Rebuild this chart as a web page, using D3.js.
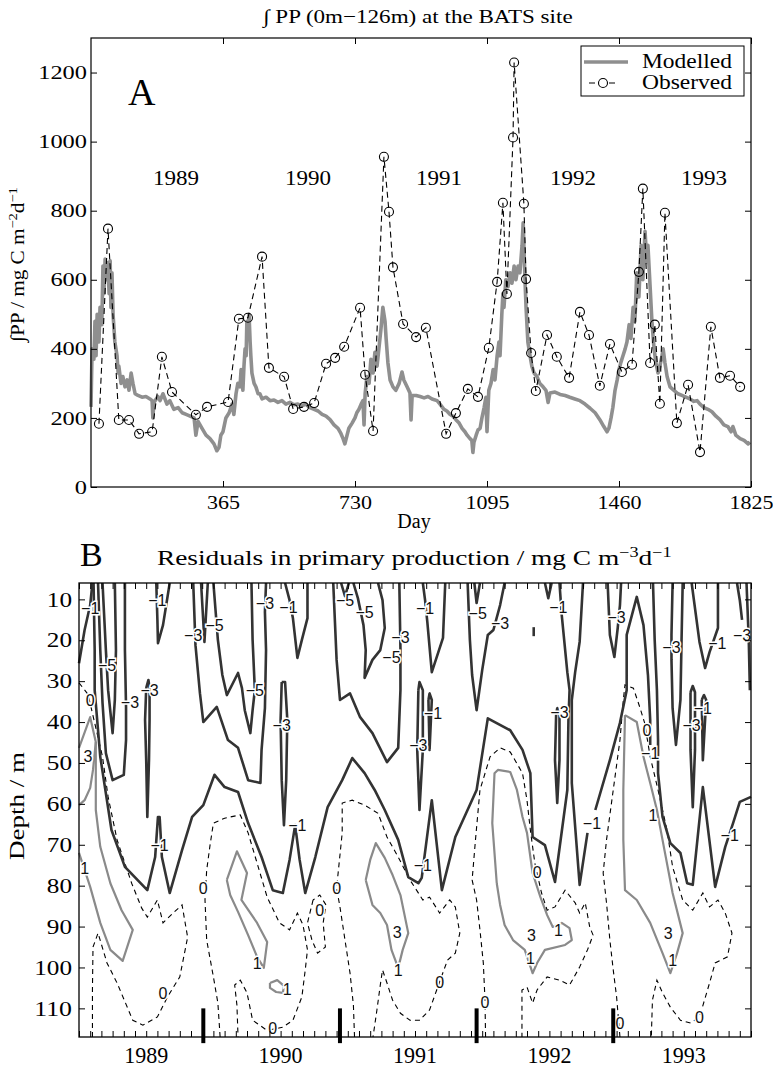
<!DOCTYPE html>
<html><head><meta charset="utf-8">
<script src="https://cdn.jsdelivr.net/npm/d3@7"></script>
<style>
body{margin:0;background:#fff}svg{display:block}
svg text{font-family:"Liberation Serif","Times New Roman",Times,serif}
svg text.cl{font-family:"Liberation Sans",Arial,Helvetica,sans-serif}
</style>
</head><body>
<svg id="c" width="773" height="1070"></svg>
<script>
// ---------------- DATA: panel A ----------------
const dayTicksA = [365, 730, 1095, 1460, 1825];
const ppTicksA = [0, 200, 400, 600, 800, 1000, 1200];
const yearNamesA = ["1989", "1990", "1991", "1992", "1993"];
const yearDaysA = [235, 600, 962, 1333, 1695];
// observed integrated PP [day, mg C m-2 d-1]
const observed = [[22,183],[47,748],[77,194],[105,194],[133,154],[169,160],[196,377],[224,275],[290,209],[321,232],[379,246],[409,487],[434,490],[473,667],[492,345],[534,319],[559,226],[589,232],[617,243],[650,357],[675,374],[700,406],[744,519],[758,325],[780,162],[810,956],[824,797],[835,636],[863,472],[899,434],[926,461],[982,154],[1009,214],[1042,284],[1070,261],[1100,403],[1123,594],[1139,823],[1150,559],[1167,1012],[1170,1229],[1197,820],[1203,602],[1217,388],[1230,278],[1261,440],[1288,377],[1322,316],[1352,507],[1377,440],[1407,293],[1435,414],[1468,333],[1496,354],[1515,623],[1526,864],[1546,359],[1559,470],[1573,241],[1587,794],[1620,185],[1651,296],[1684,101],[1714,464],[1739,316],[1767,322],[1795,290]];
// modelled integrated PP [day, value]
const modelled = [[0,232],[3,400],[8,370],[11,480],[14,380],[17,500],[22,420],[25,520],[30,470],[33,640],[36,560],[39,660],[44,600],[47,650],[50,560],[53,655],[55,520],[58,620],[61,500],[66,420],[72,380],[75,330],[77,350],[83,300],[88,320],[94,290],[100,310],[105,280],[111,330],[116,300],[122,270],[130,265],[141,260],[152,262],[163,255],[169,250],[171,200],[174,245],[185,262],[191,250],[199,270],[210,240],[218,250],[229,225],[241,230],[252,215],[263,210],[274,205],[285,200],[290,150],[296,190],[307,170],[318,150],[329,140],[340,125],[348,105],[354,115],[359,150],[365,160],[373,200],[382,215],[390,240],[395,210],[401,270],[406,300],[412,290],[415,340],[420,280],[423,350],[426,400],[429,380],[431,480],[434,430],[437,500],[440,420],[442,380],[445,330],[451,300],[456,290],[462,270],[467,270],[473,255],[484,260],[495,250],[506,252],[517,245],[528,250],[539,240],[550,245],[561,238],[572,240],[583,235],[594,240],[605,230],[617,225],[628,220],[639,210],[650,205],[661,195],[672,180],[683,170],[691,155],[697,140],[702,125],[708,150],[713,170],[722,185],[730,200],[735,215],[741,225],[747,240],[752,250],[755,180],[758,270],[763,320],[769,300],[774,370],[780,330],[785,390],[791,350],[796,400],[802,460],[807,520],[813,480],[816,430],[821,360],[827,310],[835,290],[843,280],[852,300],[860,333],[865,310],[874,290],[882,272],[885,194],[888,265],[899,265],[910,262],[921,258],[932,262],[943,255],[957,250],[965,240],[976,225],[984,220],[993,210],[1001,205],[1009,195],[1018,185],[1026,170],[1034,160],[1040,150],[1048,140],[1053,135],[1056,100],[1059,130],[1065,150],[1070,165],[1076,170],[1081,200],[1087,230],[1092,260],[1095,160],[1100,280],[1106,300],[1112,340],[1117,310],[1123,380],[1128,420],[1131,380],[1136,500],[1139,560],[1142,520],[1147,600],[1153,580],[1159,620],[1164,590],[1170,640],[1175,600],[1181,640],[1186,620],[1192,700],[1195,765],[1197,700],[1200,600],[1203,520],[1206,460],[1208,420],[1214,380],[1219,350],[1225,330],[1233,320],[1241,300],[1250,290],[1258,280],[1264,245],[1269,272],[1283,275],[1297,268],[1311,265],[1324,260],[1338,255],[1352,250],[1366,240],[1380,228],[1394,215],[1407,195],[1418,175],[1427,160],[1432,170],[1438,200],[1443,230],[1449,280],[1455,310],[1460,340],[1465,360],[1471,380],[1477,400],[1482,420],[1488,470],[1493,430],[1499,520],[1504,480],[1509,620],[1515,550],[1521,700],[1526,600],[1532,740],[1537,650],[1540,700],[1546,580],[1551,480],[1557,400],[1562,360],[1568,330],[1573,350],[1579,380],[1582,400],[1587,360],[1593,320],[1601,290],[1612,280],[1623,270],[1634,265],[1645,260],[1656,255],[1667,248],[1676,250],[1684,240],[1695,230],[1706,225],[1717,218],[1728,205],[1739,195],[1750,180],[1761,175],[1770,160],[1775,175],[1783,150],[1795,140],[1806,135],[1817,125],[1822,130]];

// ---------------- DATA: panel B (months since Jan 1989, depth m) ----------------
const depthTicks = [10,20,30,40,50,60,70,80,90,100,110];
const monthTicks = d3.range(0, 61);
const yearNamesB = ["1989", "1990", "1991", "1992", "1993"];
const yearMonthsB = [6, 18, 30, 42, 54];
const gapBars = [11.1, 23.3, 35.5, 47.7];
// negative residual contours (-1, -3, -5)
const contoursNeg = [
 [[0,25.6],[0.5,17.5],[1.0,11.4],[1.2,6]],
 [[1.3,6],[1.4,22.4],[1.4,32.2],[1.9,48.5],[2.9,66.4],[4.1,75.4],[6.1,81.1],[6.8,73.0],[7.05,63.2],[7.2,63.2],[7.4,73.0],[8.1,81.8],[9.2,71.3],[10.1,63.2],[11.1,60.3],[12.1,52.9],[13.0,55.9],[14.2,57.1],[15.1,64.7],[16.3,73.0],[17.3,81.1],[18.2,81.8],[18.8,73.7],[19.3,65.2],[19.7,73.7],[20.2,81.8],[21.1,73.0],[22.2,60.8],[23.5,54.2],[24.4,48.8],[25.5,52.5],[26.4,56.6],[27.3,61.5],[28.5,68.8],[29.4,77.9],[30.3,79.4],[30.6,78.1],[31.5,59.1],[32.4,81.1],[33.6,68.1],[35.5,56.6],[36.5,39.1],[38.5,42.0],[39.6,46.8],[40.3,52.5],[40.5,68.1],[41.6,70.1],[42.5,79.1],[43.6,56.6],[43.7,39.5],[43.8,32.2],[43.6,27.8],[43.1,13.8],[42.9,6]],
 [[45.0,6],[44.7,20.4],[44.3,27.8],[44.0,34.6],[44.0,54.9],[44.7,79.8],[45.4,67.1]],
 [[46.1,61.5],[47.4,49.3],[48.3,40.2],[48.9,32.2],[48.9,18.7],[49.8,9.4],[50.4,16.3],[50.8,28.5],[51.0,39.5],[51.0,45.6]],
 [[51.25,6],[51.4,19.9],[51.6,32.2],[51.7,44.4],[51.7,52.5],[52.1,63.2],[52.8,69.6],[53.7,72.0],[54.3,79.4],[54.8,79.8],[55.7,55.9],[56.8,80.3],[57.7,70.5],[58.4,64.7],[59.0,59.5],[60,58.3]],
 [[2.1,6],[2.4,22.4],[2.6,32.2],[3.0,42.7],[3.2,34.6],[3.3,22.4],[3.2,6]],
 [[1.7,6],[1.9,22.4],[2.1,35.3],[2.4,47.6],[3.0,54.2],[4.0,52.9],[4.2,44.4],[4.2,36.3],[4.1,22.4],[4.1,6]],
 [[6.0,31.7],[5.9,39.5],[6.0,49.3],[6.1,63.2],[6.25,49.3],[6.3,39.5],[6.3,31.7],[6.2,29.7],[6.0,31.7]],
 [[6.9,6],[7.0,15.0],[7.05,20.7],[7.5,16.3],[8.1,6]],
 [[10.2,6],[10.4,21.2],[10.8,33.0],[11.1,40.0],[12.3,36.3],[13.3,44.4],[14.2,46.3],[15.1,54.2],[16.2,54.9],[16.3,46.8],[16.6,36.6],[16.7,22.4],[16.6,13.1],[16.7,6]],
 [[10.9,6],[11.2,20.4],[11.5,6]],
 [[12.0,6],[12.4,19.9],[12.8,28.5],[13.2,33.4],[14.2,28.0],[14.55,31.7],[14.8,37.1],[15.3,42.7],[15.5,37.1],[15.7,32.2],[15.5,19.9],[15.4,6]],
 [[18.4,6],[18.8,10.2],[19.1,14.6],[19.5,24.3],[19.9,19.9],[20.4,14.6],[20.4,6]],
 [[18.1,30.2],[18.0,39.5],[18.1,54.2],[18.3,65.2],[18.5,54.2],[18.6,39.5],[18.4,30.2],[18.1,30.2]],
 [[22.7,6],[23.0,24.8],[23.3,34.6],[24.2,33.0],[25.1,38.8],[26.2,42.7],[27.5,49.8],[28.5,46.3],[28.7,32.2],[28.7,21.9],[28.6,6]],
 [[23.4,6],[23.75,9.2],[24.1,6]],
 [[24.5,6],[24.9,9.7],[25.4,16.3],[25.6,22.4],[25.5,29.2],[26.2,24.8],[26.9,22.4],[27.3,17.0],[27.1,10.2],[26.7,6]],
 [[30.7,6],[30.9,10.2],[31.1,15.5],[31.5,27.8],[32.5,19.4],[32.7,6]],
 [[30.3,32.2],[30.2,46.8],[30.4,61.5],[30.7,46.8],[30.7,32.2],[30.4,30.2],[30.3,32.2]],
 [[31.2,34.6],[31.3,46.8],[31.5,34.6],[31.3,33.0],[31.2,34.6]],
 [[34.7,6],[34.9,19.9],[35.1,28.5],[35.5,37.1],[36.0,27.3],[36.5,18.7],[37.0,17.5],[37.6,11.4],[38.0,6]],
 [[35.3,6],[35.5,10.9],[35.8,6]],
 [[40.6,16.8],[40.6,19.0]],
 [[41.6,6],[41.9,9.7],[42.2,6]],
 [[42.6,38.3],[42.5,49.3],[42.7,59.8],[42.9,49.3],[42.9,38.3],[42.7,36.6],[42.6,38.3]],
 [[47.2,6],[47.4,18.7],[47.8,24.1],[48.1,17.0],[48.3,11.4],[48.4,6]],
 [[54.7,6],[55.4,20.4],[55.9,26.8],[56.3,22.9],[57.05,17.0],[57.05,6]],
 [[54.6,32.7],[54.6,46.8],[54.8,60.8],[55.0,46.8],[55.0,32.7],[54.8,31.2],[54.6,32.7]],
 [[55.6,34.6],[55.7,49.3],[56.0,34.6],[55.8,33.4],[55.6,34.6]],
 [[58.75,6],[59.0,10.2],[59.2,15.0]],
 [[59.6,6],[59.8,19.9],[59.9,32.2]],
 [[53.0,6],[52.9,18.7],[52.9,24.8],[53.0,36.6],[53.3,45.6],[53.7,34.6],[53.8,19.9],[53.9,6]]
];
// zero contours
const contoursZero = [
 [[0,30.4],[0.8,33.2],[1.4,40.2],[2.1,48.5],[2.6,58.3],[3.4,68.8],[4.7,79.4],[5.6,85.5],[6.1,87.7],[7.0,83.5],[7.5,89.1],[8.4,86.7],[9.2,84.7],[9.7,92.6],[9.0,102.3],[7.9,107.2],[7.0,112.1],[5.7,114.1],[4.8,112.9],[3.4,103.8],[2.5,98.9],[1.7,91.6],[1.25,95.0],[1.2,105.5],[1.2,117]],
 [[12.6,117],[12.4,108.7],[12.0,102.3],[11.4,93.3],[11.25,83.5],[11.4,76.2],[11.7,70.1],[12.0,64.7],[13.0,63.5],[14.4,62.7],[15.1,67.1],[16.0,75.4],[16.8,82.8],[17.9,89.1],[18.8,90.8],[19.5,86.7],[20.0,89.6],[20.4,95.7],[20.2,100.6],[19.9,107.2],[19.1,112.9],[18.2,114.6],[16.8,115.4],[15.5,112.9],[15.0,106.2],[14.4,103.1],[13.9,104.3],[14.1,109.2],[14.2,117]],
 [[20.9,83.5],[20.4,89.1],[20.8,93.3],[21.3,96.5],[22.0,95.0],[21.8,89.1],[22.05,84.7],[21.5,82.3],[20.9,83.5]],
 [[24.6,117],[24.5,109.2],[24.2,101.4],[23.75,93.3],[23.3,85.2],[23.0,80.6],[23.5,67.1],[23.5,59.8],[24.4,59.1],[25.5,60.3],[26.7,62.3],[27.5,68.1],[28.5,73.0],[29.55,78.6],[30.7,83.5],[31.3,82.8],[32.2,86.7],[33.1,83.5],[33.6,85.2],[34.0,91.6],[33.6,96.5],[32.9,98.2],[32.2,103.5],[31.3,110.4],[30.4,112.9],[29.55,112.9],[28.7,111.2],[28.0,108.0],[27.5,103.8],[27.1,100.6],[26.9,104.3],[26.6,110.4],[26.25,117]],
 [[36.3,117],[36.25,108.0],[36.1,98.9],[35.8,90.8],[35.5,83.5],[35.1,78.6],[35.4,68.8],[35.8,56.6],[36.7,48.5],[37.6,46.3],[38.5,47.3],[39.6,52.5],[40.0,59.1],[40.3,66.4],[40.7,74.5],[41.3,81.8],[41.8,86.0],[42.5,85.2],[43.4,81.1],[44.3,84.2],[44.7,86.7],[45.2,84.2],[45.6,90.1],[45.9,92.1],[45.4,95.7],[44.7,99.9],[43.8,104.3],[42.9,103.1],[41.8,102.3],[40.9,105.5],[40.5,108.7],[40.0,104.8],[39.55,105.5],[39.55,117]],
 [[48.3,117],[48.0,107.2],[47.7,100.6],[47.4,93.3],[47.1,84.2],[46.8,76.9],[47.1,68.8],[47.7,56.6],[48.3,44.4],[48.6,34.6],[48.75,30.9],[49.5,31.7],[50.1,36.6],[50.5,40.2],[51.0,48.5],[51.7,56.6],[52.5,66.4],[53.0,75.4],[53.9,83.5],[54.8,86.0],[55.7,81.8],[56.3,85.2],[57.05,83.5],[57.7,86.7],[58.3,91.6],[57.9,97.4],[56.8,98.9],[56.3,103.8],[55.4,112.1],[54.6,113.6],[53.7,112.9],[52.8,109.7],[52.1,106.2],[51.6,103.1],[51.2,108.0],[51.1,117]]
];
// positive contours (1, 3)
const contoursPos = [
 [[0,46.3],[1.0,38.8],[1.5,44.9],[1.25,51.7],[1.0,56.1],[0.5,59.1],[0,60.3]],
 [[0,72.0],[1.0,80.3],[1.9,89.1],[2.8,95.7],[3.9,98.4],[4.8,90.8],[3.8,86.0],[2.8,79.4],[1.9,70.5],[1.5,61.5],[1.5,44.9]],
 [[13.2,78.6],[14.1,71.6],[15.0,76.9],[14.5,83.5],[15.9,89.1],[16.8,93.8],[16.5,100.1],[15.9,97.4],[15.1,92.1],[14.2,86.4],[13.5,82.3],[13.2,78.6]],
 [[17.05,103.8],[17.7,103.1],[18.3,104.5],[18.2,106.2],[17.6,106.0],[17.05,105.0],[17.05,103.8]],
 [[25.6,78.6],[26.0,73.7],[26.5,69.6],[27.3,73.2],[28.0,77.4],[28.7,82.3],[29.4,91.6],[28.9,95.7],[28.5,100.1],[27.9,95.7],[27.5,89.6],[26.9,86.7],[26.2,84.7],[25.6,78.6]],
 [[37.3,79.4],[36.9,64.7],[37.1,52.5],[37.4,51.7],[38.5,52.2],[39.1,56.6],[39.6,63.2],[40.0,67.1],[40.5,76.9],[41.2,82.8],[41.8,87.2],[42.3,90.1],[43.1,89.1],[43.8,90.4],[44.0,93.3],[43.4,94.5],[41.6,95.7],[40.9,98.9],[40.5,101.4],[39.8,95.7],[38.75,93.3],[38.0,89.6],[37.6,84.7],[37.3,79.4]],
 [[48.75,38.3],[49.8,40.0],[50.4,48.5],[51.0,54.9],[51.6,61.5],[52.1,68.8],[53.0,81.8],[53.9,91.6],[53.4,96.5],[52.8,101.4],[52.1,96.5],[51.0,89.1],[49.8,83.5],[48.75,81.1],[48.6,68.8],[48.6,56.6],[48.75,38.3]]
];
const labelsNeg = [[1.0,12.1,"−1"],[2.5,26.0,"−5"],[4.55,35.1,"−3"],[6.3,32.2,"−3"],[7.0,10.2,"−1"],[7.2,70.1,"−1"],[10.2,18.7,"−3"],[12.1,16.3,"−5"],[15.7,32.2,"−5"],[16.6,10.9,"−3"],[18.7,11.9,"−1"],[18.1,40.7,"−3"],[19.5,65.2,"−1"],[23.75,10.2,"−5"],[25.5,13.1,"−5"],[27.9,24.1,"−5"],[28.7,19.2,"−3"],[30.3,45.6,"−3"],[30.9,12.1,"−1"],[31.6,37.8,"−1"],[30.7,74.9,"−1"],[35.6,13.3,"−5"],[37.6,15.8,"−3"],[42.8,11.9,"−1"],[42.9,37.5,"−3"],[45.8,64.7,"−1"],[48.0,14.3,"−3"],[52.9,21.6,"−3"],[51.0,47.6,"−1"],[57.0,20.7,"−1"],[59.2,18.7,"−3"],[55.7,36.6,"−1"],[54.7,40.7,"−3"],[58.1,67.6,"−1"]];
const labelsPos = [[0.8,48.3,"3"],[0.5,75.7,"1"],[15.9,98.9,"1"],[18.6,105.3,"1"],[28.4,91.3,"3"],[28.5,100.6,"1"],[40.4,92.1,"3"],[42.8,90.8,"1"],[40.3,97.7,"1"],[51.25,62.7,"1"],[52.6,91.6,"3"],[53.0,98.2,"1"]];
const labelsZero = [[1.0,34.6],[7.5,106.2],[11.1,80.6],[17.3,114.9],[21.5,86.0],[23.0,80.6],[32.2,103.5],[36.25,108.4],[40.9,76.6],[50.7,42.0],[48.3,113.6],[55.4,112.1]];

// ---------------- DRAW ----------------
const svg = d3.select('#c');

function fitRange(sel, left, right){
  const bb = sel.node().getBBox();
  const s = (right-left)/bb.width;
  sel.attr('transform', `translate(${left - bb.x*s},0) scale(${s},1)`);
}
function rotLabel(sel, bx, cy, len){
  const bb = sel.node().getBBox();
  const s = len/bb.width;
  sel.attr('transform', `translate(${bx},${cy}) rotate(-90) scale(${s},1) translate(${-bb.x-bb.width/2},0)`);
}

// ===== Panel A =====
const xA = d3.scaleLinear().domain([0,1825]).range([91,751]);
const yA = d3.scaleLinear().domain([0,1300]).range([487,38]);
const gA = svg.append('g');

const tA = gA.append('text').attr('x',0).attr('y',23).style('font-size','19px').text('∫ PP (0m−126m) at the BATS site');
fitRange(tA, 262, 573);

gA.append('path').datum(modelled)
  .attr('d', d3.line().x(d=>xA(d[0])).y(d=>yA(d[1])))
  .attr('fill','none').attr('stroke','#8f8f8f').attr('stroke-width',3.6).attr('stroke-linejoin','round');

gA.append('path').datum(observed)
  .attr('d', d3.line().x(d=>xA(d[0])).y(d=>yA(d[1])))
  .attr('fill','none').attr('stroke','#000').attr('stroke-width',1.1).attr('stroke-dasharray','6,4');
gA.selectAll('circle.obs').data(observed).join('circle').attr('class','obs')
  .attr('cx',d=>xA(d[0])).attr('cy',d=>yA(d[1])).attr('r',4.5)
  .attr('fill','none').attr('stroke','#000').attr('stroke-width',1.1);

const fmt = d3.format('d');
const axB = gA.append('g').attr('transform',`translate(0,${yA(0)})`)
  .call(d3.axisBottom(xA).tickValues(dayTicksA).tickSize(-6).tickPadding(9).tickFormat(fmt));
axB.selectAll('text').style('font-size','18px').attr('fill','#000')
  .attr('textLength',d=>String(d).length*11).attr('lengthAdjust','spacingAndGlyphs');
const axT = gA.append('g').attr('transform',`translate(0,${yA(1300)})`)
  .call(d3.axisTop(xA).tickValues(dayTicksA).tickSize(-6).tickFormat(''));
const axL = gA.append('g').attr('transform',`translate(${xA(0)},0)`)
  .call(d3.axisLeft(yA).tickValues(ppTicksA).tickSize(-6).tickPadding(4).tickFormat(fmt));
axL.selectAll('text').style('font-size','19px').attr('fill','#000')
  .attr('textLength',d=>String(d).length*12.2).attr('lengthAdjust','spacingAndGlyphs');
const axR = gA.append('g').attr('transform',`translate(${xA(1825)},0)`)
  .call(d3.axisRight(yA).tickValues(ppTicksA).tickSize(-6).tickFormat(''));
[axB,axT,axL,axR].forEach(a=>{a.attr('font-family',null).attr('font-size',null); a.select('.domain').remove(); a.selectAll('line').attr('stroke','#000').attr('stroke-width',1);});
gA.append('rect').attr('x',xA(0)).attr('y',yA(1300)).attr('width',xA(1825)-xA(0)).attr('height',yA(0)-yA(1300))
  .attr('fill','none').attr('stroke','#000').attr('stroke-width',1.2);

gA.append('text').attr('x',414).attr('y',528).attr('text-anchor','middle').style('font-size','20px').text('Day');
const ylA = gA.append('text').style('font-size','19px');
ylA.append('tspan').text('∫PP / mg C m');
ylA.append('tspan').style('font-size','13px').attr('dy',-7).text('−2');
ylA.append('tspan').attr('dy',7).text('d');
ylA.append('tspan').style('font-size','13px').attr('dy',-7).text('−1');
rotLabel(ylA, 24, 265, 156);

gA.append('text').attr('x',128).attr('y',105).style('font-size','38px').text('A');
gA.selectAll('text.yr').data(yearNamesA).join('text').attr('class','yr')
  .attr('x',(d,i)=>xA(yearDaysA[i])).attr('y',185).attr('text-anchor','middle')
  .style('font-size','20px').attr('textLength',46).attr('lengthAdjust','spacingAndGlyphs').text(d=>d);

// legend
const lg = gA.append('g');
lg.append('rect').attr('x',581).attr('y',46).attr('width',163).attr('height',50).attr('fill','#fff').attr('stroke','#000').attr('stroke-width',1);
lg.append('line').attr('x1',584).attr('x2',628).attr('y1',62).attr('y2',62).attr('stroke','#8f8f8f').attr('stroke-width',3.6);
lg.append('line').attr('x1',589).attr('x2',618).attr('y1',83).attr('y2',83).attr('stroke','#000').attr('stroke-width',1.1).attr('stroke-dasharray','6,4');
lg.append('circle').attr('cx',603).attr('cy',83).attr('r',4.5).attr('fill','#fff').attr('stroke','#000').attr('stroke-width',1.1);
const l1 = lg.append('text').attr('x',0).attr('y',68).style('font-size','20px').text('Modelled');
fitRange(l1, 642, 732);
const l2 = lg.append('text').attr('x',0).attr('y',89).style('font-size','20px').text('Observed');
fitRange(l2, 642, 732);

// ===== Panel B =====
const xB = d3.scaleLinear().domain([0,60]).range([79,751]);
const yB = d3.scaleLinear().domain([6,117]).range([583,1037]);
const gB = svg.append('g');
const lineB = d3.line().x(d=>xB(d[0])).y(d=>yB(d[1]));

gB.append('text').attr('x',80).attr('y',566).style('font-size','34px').text('B');
const tB = gB.append('text').attr('x',0).attr('y',565).style('font-size','21px');
tB.append('tspan').text('Residuals in primary production / mg C m');
tB.append('tspan').style('font-size','14px').attr('dy',-8).text('−3');
tB.append('tspan').attr('dy',8).text('d');
tB.append('tspan').style('font-size','14px').attr('dy',-8).text('−1');
fitRange(tB, 157, 672);

gB.selectAll('path.pos').data(contoursPos).join('path').attr('class','pos').attr('d',lineB)
  .attr('fill','none').attr('stroke','#8a8a8a').attr('stroke-width',2.2).attr('stroke-linejoin','round');
gB.selectAll('path.zero').data(contoursZero).join('path').attr('class','zero').attr('d',lineB)
  .attr('fill','none').attr('stroke','#000').attr('stroke-width',1.1).attr('stroke-dasharray','5,4');
gB.selectAll('path.neg').data(contoursNeg).join('path').attr('class','neg').attr('d',lineB)
  .attr('fill','none').attr('stroke','#333').attr('stroke-width',2.6).attr('stroke-linejoin','round');

const allLabels = labelsNeg.concat(labelsPos).concat(labelsZero.map(d=>[d[0],d[1],'0']));
gB.selectAll('text.cl').data(allLabels).join('text').attr('class','cl')
  .attr('x',d=>xB(d[0])).attr('y',d=>yB(d[1])).attr('dy','0.36em').attr('text-anchor','middle')
  .style('font-size','16px').attr('fill','#111')
  .attr('stroke','#fff').attr('stroke-width',3).attr('paint-order','stroke').text(d=>d[2]);

const bB = gB.append('g').attr('transform',`translate(0,${yB(117)})`)
  .call(d3.axisBottom(xB).tickValues(monthTicks).tickSize(-6).tickFormat(''));
const bT = gB.append('g').attr('transform',`translate(0,${yB(6)})`)
  .call(d3.axisTop(xB).tickValues(monthTicks).tickSize(-6).tickFormat(''));
const bL = gB.append('g').attr('transform',`translate(${xB(0)},0)`)
  .call(d3.axisLeft(yB).tickValues(depthTicks).tickSize(-6).tickPadding(7).tickFormat(fmt));
bL.selectAll('text').style('font-size','21px').attr('fill','#000')
  .attr('textLength',d=>String(d).length*12.6).attr('lengthAdjust','spacingAndGlyphs');
const bR = gB.append('g').attr('transform',`translate(${xB(60)},0)`)
  .call(d3.axisRight(yB).tickValues(depthTicks).tickSize(-6).tickFormat(''));
[bB,bT,bL,bR].forEach(a=>{a.attr('font-family',null).attr('font-size',null); a.select('.domain').remove(); a.selectAll('line').attr('stroke','#000').attr('stroke-width',1);});
gB.append('rect').attr('x',xB(0)).attr('y',yB(6)).attr('width',xB(60)-xB(0)).attr('height',yB(117)-yB(6))
  .attr('fill','none').attr('stroke','#000').attr('stroke-width',1.3);
gB.selectAll('line.gap').data(gapBars).join('line').attr('class','gap')
  .attr('x1',d=>xB(d)).attr('x2',d=>xB(d)).attr('y1',yB(110)).attr('y2',yB(118.5))
  .attr('stroke','#000').attr('stroke-width',4);
gB.selectAll('text.yb').data(yearNamesB).join('text').attr('class','yb')
  .attr('x',(d,i)=>xB(yearMonthsB[i])).attr('y',1063).attr('text-anchor','middle')
  .style('font-size','24px').attr('textLength',44).attr('lengthAdjust','spacingAndGlyphs').text(d=>d);
const ylB = gB.append('text').style('font-size','22px').text('Depth / m');
rotLabel(ylB, 24, 806, 108);
</script>
</body></html>
